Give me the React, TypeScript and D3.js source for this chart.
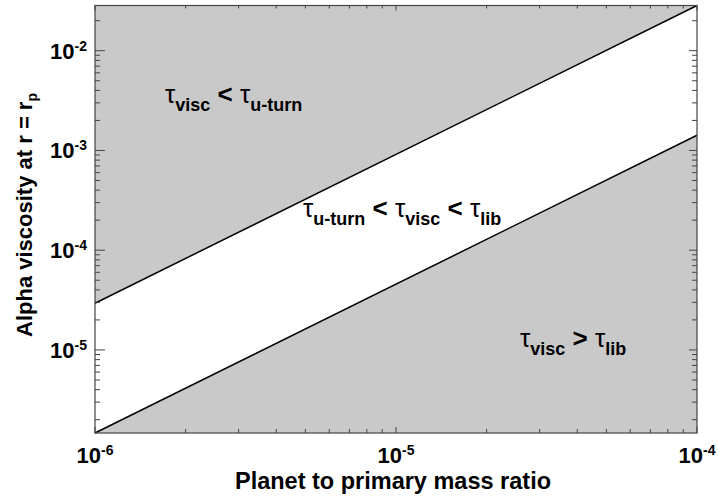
import React from "react";
import * as d3 from "d3";

const massRatio = [1e-6, 1e-4];
const upperAlpha = [2.94e-5, 2.84e-2];
const lowerAlpha = [1.47e-6, 1.42e-3];
const xDomain = [1e-6, 1e-4];
const yDomain = [1.47e-6, 2.84e-2];
const xMajorTicks = [1e-6, 1e-5, 1e-4];
const xTickLabels = ["-6", "-5", "-4"];
const yMajorTicks = [1e-5, 1e-4, 1e-3, 1e-2];
const yTickLabels = ["-5", "-4", "-3", "-2"];

const W = 718, H = 497;
const L = 95, R = 697, T = 5.5, B = 433;
const FONT = "'Liberation Sans', Arial, Helvetica, sans-serif";
const GRAY = "#c9c9c9";

type Seg = { t: string; sub?: boolean };
const labels: { x: number; y: number; segs: Seg[] }[] = [
  { x: 165, y: 103, segs: [{ t: "τ" }, { t: "visc", sub: true }, { t: " < " }, { t: "τ" }, { t: "u-turn", sub: true }] },
  { x: 303, y: 217, segs: [{ t: "τ" }, { t: "u-turn", sub: true }, { t: " < " }, { t: "τ" }, { t: "visc", sub: true }, { t: " < " }, { t: "τ" }, { t: "lib", sub: true }] },
  { x: 520, y: 347, segs: [{ t: "τ" }, { t: "visc", sub: true }, { t: " > " }, { t: "τ" }, { t: "lib", sub: true }] },
];

function minorTicks(domain: number[]) {
  const out: number[] = [];
  const lo = Math.floor(Math.log10(domain[0]));
  const hi = Math.ceil(Math.log10(domain[1]));
  for (let e = lo; e <= hi; e++) {
    for (let m = 2; m <= 9; m++) {
      const v = m * Math.pow(10, e);
      if (v >= domain[0] && v <= domain[1]) out.push(v);
    }
  }
  return out;
}

export default function App() {
  const x = d3.scaleLog().domain(xDomain).range([L, R]);
  const y = d3.scaleLog().domain(yDomain).range([B, T]);

  const upperPts: [number, number][] = massRatio.map((q, i) => [x(q), y(upperAlpha[i])]);
  const lowerPts: [number, number][] = massRatio.map((q, i) => [x(q), y(lowerAlpha[i])]);
  const line = d3.line();

  const upperArea = `M${L},${T} L${upperPts[0][0]},${upperPts[0][1]} L${upperPts[1][0]},${upperPts[1][1]} L${R},${T} Z`;
  const lowerArea = `M${lowerPts[0][0]},${lowerPts[0][1]} L${lowerPts[1][0]},${lowerPts[1][1]} L${R},${B} L${L},${B} Z`;

  const xMinor = minorTicks(xDomain);
  const yMinor = minorTicks(yDomain);
  const axisColor = "#444";

  return (
    <svg width={W} height={H} style={{ position: "absolute", left: 0, top: 0, background: "#fff" }}>
      <rect x={L} y={T} width={R - L} height={B - T} fill="#fff" />
      <path d={upperArea} fill={GRAY} />
      <path d={lowerArea} fill={GRAY} />
      <path d={line(upperPts) || ""} stroke="#000" strokeWidth={1.5} fill="none" />
      <path d={line(lowerPts) || ""} stroke="#000" strokeWidth={1.5} fill="none" />

      {/* ticks */}
      <g stroke={axisColor} strokeWidth={1}>
        {xMinor.map((v, i) => (
          <g key={"xm" + i}>
            <line x1={x(v)} x2={x(v)} y1={B} y2={B - 4} />
            <line x1={x(v)} x2={x(v)} y1={T} y2={T + 3} />
          </g>
        ))}
        {xMajorTicks.map((v, i) => (
          <g key={"xM" + i}>
            <line x1={x(v)} x2={x(v)} y1={B} y2={B - 6} />
            <line x1={x(v)} x2={x(v)} y1={T} y2={T + 5} />
          </g>
        ))}
        {yMinor.map((v, i) => (
          <g key={"ym" + i}>
            <line x1={L} x2={L + 5} y1={y(v)} y2={y(v)} />
            <line x1={R} x2={R - 5} y1={y(v)} y2={y(v)} />
          </g>
        ))}
        {yMajorTicks.map((v, i) => (
          <g key={"yM" + i}>
            <line x1={L} x2={L + 10} y1={y(v)} y2={y(v)} />
            <line x1={R} x2={R - 8} y1={y(v)} y2={y(v)} />
          </g>
        ))}
      </g>
      <rect x={L} y={T} width={R - L} height={B - T} fill="none" stroke={axisColor} strokeWidth={1.2} />

      {/* x tick labels */}
      {xMajorTicks.map((v, i) => (
        <text key={"xl" + i} x={x(v)} y={463} textAnchor="middle" fontFamily={FONT} fontWeight="bold" fontSize={22} fill="#000">
          10<tspan dy={-8} fontSize={14}>{xTickLabels[i]}</tspan>
        </text>
      ))}
      {/* y tick labels */}
      {yMajorTicks.map((v, i) => (
        <text key={"yl" + i} x={87} y={y(v) + 8} textAnchor="end" fontFamily={FONT} fontWeight="bold" fontSize={22} fill="#000">
          10<tspan dy={-8} fontSize={14}>{yTickLabels[i]}</tspan>
        </text>
      ))}

      {/* axis titles */}
      <text x={393} y={489} textAnchor="middle" fontFamily={FONT} fontWeight="bold" fontSize={23.5} fill="#000">
        Planet to primary mass ratio
      </text>
      <text transform={`translate(32,215) rotate(-90)`} textAnchor="middle" fontFamily={FONT} fontWeight="bold" fontSize={22} fill="#000">
        Alpha viscosity at r = r<tspan dy={5} fontSize={14}>p</tspan>
      </text>

      {/* region labels */}
      {labels.map((lb, i) => (
        <text key={"lb" + i} x={lb.x} y={lb.y} fontFamily={FONT} fill="#000">
          {lb.segs.map((s, j) => {
            const prevSub = j > 0 && lb.segs[j - 1].sub;
            const dy = s.sub ? 8 : prevSub ? -8 : 0;
            return (
              <tspan key={j} dy={dy} fontSize={s.sub ? 18 : 26} fontWeight={s.t === "τ" ? "normal" : "bold"} style={{ whiteSpace: "pre" }}>
                {s.t}
              </tspan>
            );
          })}
        </text>
      ))}
    </svg>
  );
}
